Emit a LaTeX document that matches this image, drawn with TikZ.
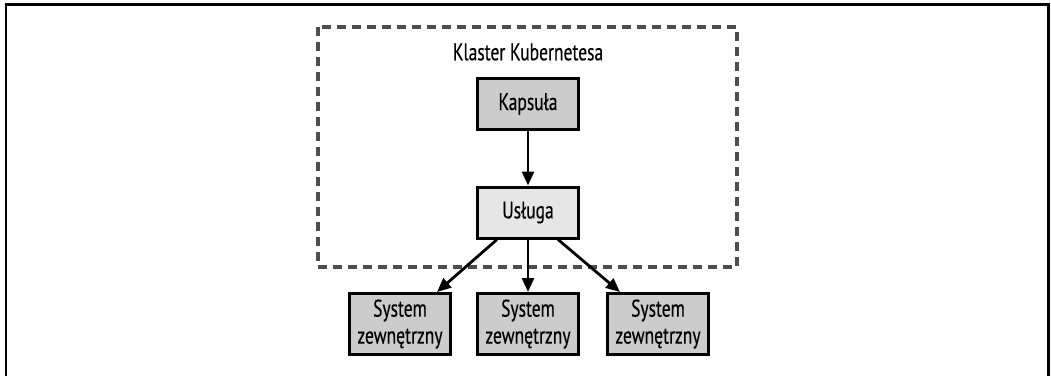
\documentclass[tikz,border=0pt]{standalone}
\usepackage{fontspec}
\setmainfont[FakeStretch=0.73,FakeBold=0.4]{PT Sans}
\usetikzlibrary{arrows.meta,calc}
\definecolor{boxdark}{HTML}{CCCCCC}
\definecolor{boxlight}{HTML}{E6E6E6}
\definecolor{dashgray}{HTML}{4D4D4D}
\begin{document}
\begin{tikzpicture}[x=1bp,y=-1bp,
  box/.style={draw=black, line width=3bp, fill=boxdark, minimum width=101bp,
    minimum height=51bp, inner sep=0pt, align=center, font=\fontsize{24bp}{27bp}\selectfont},
  lightbox/.style={box, fill=boxlight},
  extbox/.style={box, minimum height=61bp},
  conn/.style={line width=2.8bp, -{Triangle[length=14bp,width=12bp]}},
  lbl/.style={inner sep=0pt, font=\fontsize{24bp}{27bp}\selectfont}]
\useasboundingbox (0,0) rectangle (1051,376);
% outer frame (open at the bottom)
\draw[line width=2.5bp, line join=miter] (6,376) -- (6,4.5) -- (1048.5,4.5) -- (1048.5,376);
% cluster
\draw[dashgray, line width=3.2bp, dash pattern=on 9bp off 6bp] (318,27) rectangle (737,267);
\node[lbl] (title) at (528,52) {Klaster Kubernetesa};
\node[box] (kap) at (528,104) {Kapsuła};
\node[lightbox] (usl) at (528,212.5) {Usługa};
\node[extbox] (s1) at (400,324) {System\\zewnętrzny};
\node[extbox] (s2) at (528,324) {System\\zewnętrzny};
\node[extbox] (s3) at (658,324) {System\\zewnętrzny};
\draw[conn] (kap) -- (usl);
\draw[conn] ($(usl.south)+(-31,0)$) -- ($(s1.north)+(37,0)$);
\draw[conn] (usl) -- (s2);
\draw[conn] ($(usl.south)+(30,0)$) -- ($(s3.north)+(-38,0)$);
\end{tikzpicture}
\end{document}
